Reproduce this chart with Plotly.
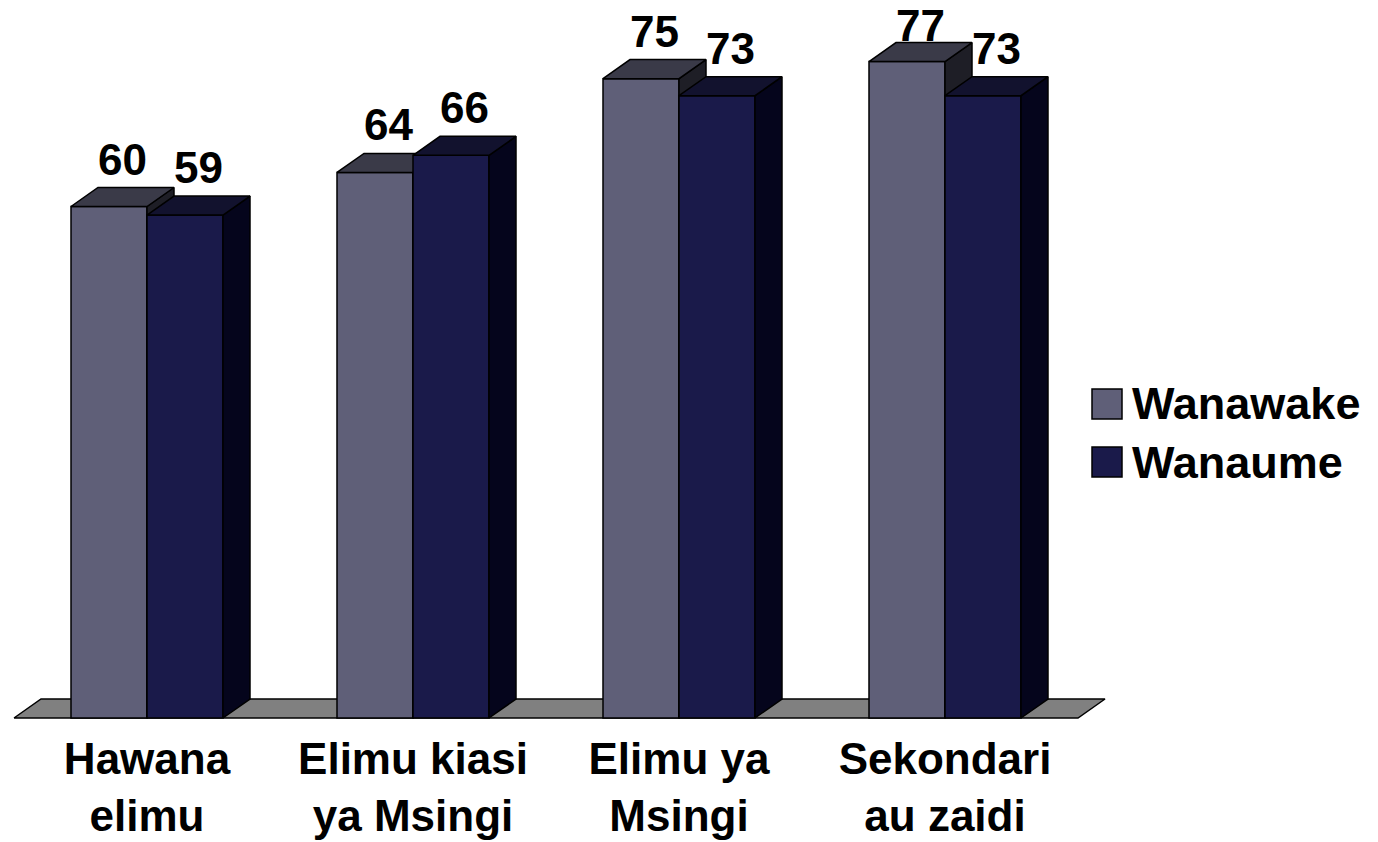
import plotly.graph_objects as go

# ---------------- data ----------------
categories = ["Hawana<br>elimu", "Elimu kiasi<br>ya Msingi", "Elimu ya<br>Msingi", "Sekondari<br>au zaidi"]
series_names = ["Wanawake", "Wanaume"]
wanawake = [60, 64, 75, 77]
wanaume = [59, 66, 73, 73]

# ---------------- style / layout constants ----------------
FIG_W, FIG_H = 1378, 842
BASE_PX = 718                # floor front edge (figure pixels)
PLOT_H = BASE_PX + 7
MARGIN_B = FIG_H - PLOT_H
PX_PER_CAT = 266.0
PX_PER_UNIT = 8.525
FIRST_CAT_PX = 147
BAR_W = 76 / PX_PER_CAT
DX = 27 / PX_PER_CAT
DY = 19 / PX_PER_UNIT
FONT = "Liberation Sans, Arial, sans-serif"
FS = 44
LABEL_GAP_PX = 12            # baseline gap above the bar's back top edge
LABEL_DESC_PX = 10           # descent + pad below the baseline in the text box
LABEL_MIN_BASE_PX = 42       # keep label baseline at least this far from figure top

front_colors = ["#5F5F78", "#1A1A4A"]
top_colors = ["#3A3A48", "#12122E"]
side_colors = ["#1E1E26", "#05051C"]
offsets = [-BAR_W, 0.0]
zbase = [1, 3]

x_range = [-FIRST_CAT_PX / PX_PER_CAT, (FIG_W - FIRST_CAT_PX) / PX_PER_CAT]
y_range = [-(PLOT_H - BASE_PX) / PX_PER_UNIT, BASE_PX / PX_PER_UNIT]
label_y_max = (BASE_PX - LABEL_MIN_BASE_PX - LABEL_DESC_PX) / PX_PER_UNIT

xpos = list(range(len(categories)))
fig = go.Figure()

# floor
fx0, fx1 = -0.5, len(categories) - 0.5
fig.add_trace(go.Scatter(
    x=[fx0, fx1, fx1 + DX, fx0 + DX, fx0], y=[0, 0, DY, DY, 0],
    mode="lines", fill="toself", fillcolor="#808080",
    line=dict(color="black", width=1.5), hoverinfo="skip", showlegend=False, zorder=0))

annotations = []
for s, (name, vals) in enumerate(zip(series_names, [wanawake, wanaume])):
    fig.add_trace(go.Bar(
        x=xpos, y=vals, name=name, width=BAR_W, offset=offsets[s],
        marker=dict(color=front_colors[s], line=dict(color="black", width=1.5)),
        showlegend=False, zorder=zbase[s]))
    tx, ty, sx, sy = [], [], [], []
    for i, h in zip(xpos, vals):
        x0 = i + offsets[s]
        x1 = x0 + BAR_W
        tx += [x0, x1, x1 + DX, x0 + DX, x0, None]
        ty += [h, h, h + DY, h + DY, h, None]
        sx += [x1, x1 + DX, x1 + DX, x1, x1, None]
        sy += [0, DY, h + DY, h, 0, None]
        ly = min(h + DY + (LABEL_GAP_PX - LABEL_DESC_PX) / PX_PER_UNIT, label_y_max)
        annotations.append(dict(
            x=(x0 + x1) / 2 + DX / 2, y=ly, xref="x", yref="y",
            text=str(h), showarrow=False, yanchor="bottom",
            font=dict(family=FONT, size=FS, color="black", weight="bold")))
    fig.add_trace(go.Scatter(x=sx, y=sy, mode="lines", fill="toself",
                             fillcolor=side_colors[s], line=dict(color="black", width=1.5),
                             hoverinfo="skip", showlegend=False, zorder=zbase[s] + 1))
    fig.add_trace(go.Scatter(x=tx, y=ty, mode="lines", fill="toself",
                             fillcolor=top_colors[s], line=dict(color="black", width=1.5),
                             hoverinfo="skip", showlegend=False, zorder=zbase[s] + 1))

# custom legend (large keys)
shapes = []
leg_x0, leg_key = 1092, 30
leg_centers = [404, 462]
for s, name in enumerate(series_names):
    cy = leg_centers[s]
    shapes.append(dict(
        type="rect", xref="paper", yref="paper",
        x0=leg_x0 / FIG_W, x1=(leg_x0 + leg_key) / FIG_W,
        y0=(PLOT_H - (cy + leg_key / 2)) / PLOT_H, y1=(PLOT_H - (cy - leg_key / 2)) / PLOT_H,
        fillcolor=front_colors[s], line=dict(color="black", width=1.5)))
    annotations.append(dict(
        x=(leg_x0 + leg_key + 8) / FIG_W, y=(PLOT_H - cy) / PLOT_H, xref="paper", yref="paper",
        text=name, showarrow=False, xanchor="left", yanchor="middle",
        font=dict(family=FONT, size=FS + 1, color="black", weight="bold")))

fig.update_layout(
    width=FIG_W, height=FIG_H,
    margin=dict(l=0, r=0, t=0, b=MARGIN_B, autoexpand=False),
    paper_bgcolor="white", plot_bgcolor="white",
    barmode="overlay", showlegend=False,
    annotations=annotations, shapes=shapes,
    xaxis=dict(range=x_range, tickvals=xpos, ticktext=categories,
               tickfont=dict(family=FONT, size=FS, color="black", weight="bold"),
               showgrid=False, zeroline=False, showline=False, ticks="",
               ticklabelstandoff=4, fixedrange=True),
    yaxis=dict(range=y_range, visible=False, showgrid=False, zeroline=False, fixedrange=True),
)

fig.write_html("out.html", config={"displayModeBar": False},
               post_script="document.body.style.margin='0';document.body.style.overflow='hidden';")
